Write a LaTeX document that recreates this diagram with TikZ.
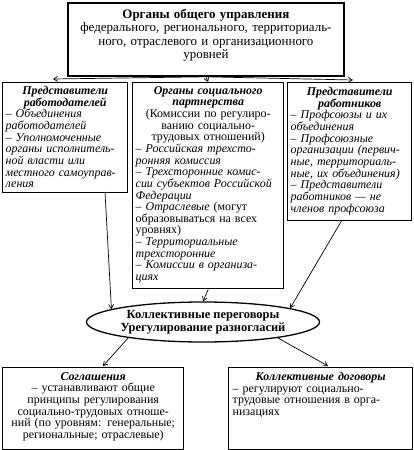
\documentclass[tikz,border=0pt]{standalone}
\usepackage{fontspec}
\setmainfont{Liberation Serif}
\usetikzlibrary{arrows.meta,shapes.geometric,calc}
\begin{document}
\begin{tikzpicture}[x=1bp,y=-1bp,
 box/.style={draw, line width=1.4bp, anchor=north west, inner sep=0pt},
 txt/.style={inner sep=0pt, anchor=north, align=left, font=\fontsize{12}{11.7}\selectfont},
 conn/.style={line width=0.7bp, -{Straight Barb[length=4bp,width=5bp]}}]
\useasboundingbox (0,0) rectangle (413,450);
% top
\node[box, line width=1.8bp, minimum width=276bp, minimum height=73bp] (T) at (67,2) {};
\node[txt, text width=270bp, align=center, font=\fontsize{13}{13.5}\selectfont] (Tt) at ($(T.north)+(0,7)$)
 {\textbf{Органы общего управления}\\федерального, регионального, территориаль-\\ного, отраслевого и организационного\\уровней};
% left
\node[box, minimum width=125bp, minimum height=110bp] (L) at (2,82) {};
\node[txt, text width=119bp] (Lt) at ($(L.north)+(0,4)$)
 {{\centering\bfseries\itshape Представители\\работодателей\par}\itshape
 – Объединения\\работодателей\\– Уполномоченные\\органы исполнитель-\\ной власти или\\местного самоуправ-\\ления};
% middle
\node[box, minimum width=151bp, minimum height=206bp] (M) at (132,82) {};
\node[txt, text width=145bp] (Mt) at ($(M.north)+(0,4)$)
 {{\centering\bfseries\itshape Органы социального\\партнерства\par}{\centering (Комиссии по регулиро-\\ванию социально-\\трудовых отношений)\par}\itshape
 – Российская трехсто-\\ронняя комиссия\\– Трехсторонние комис-\\сии субъектов Российской\\Федерации\\– Отраслевые \upshape(могут\\образовываться на всех\\уровнях)\\\itshape – Территориальные\\трехсторонние\\– Комиссии в организа-\\циях};
% right
\node[box, minimum width=124bp, minimum height=138bp] (R) at (287,82) {};
\node[txt, text width=118bp] (Rt) at ($(R.north)+(0,5)$)
 {{\centering\bfseries\itshape Представители\\работников\par}\itshape
 – Профсоюзы и их\\объединения\\– Профсоюзные\\организации (первич-\\ные, территориаль-\\ные, их объединения)\\– Представители\\работников — не\\членов профсоюза};
% ellipse
\node[draw, ellipse, line width=1.3bp, minimum width=175bp, minimum height=40bp, inner sep=0pt, align=center,
 font=\bfseries\fontsize{12.5}{13.3}\selectfont] (E) at (203,322) {Коллективные переговоры\\Урегулирование разногласий};
% bottom
\node[box, minimum width=181bp, minimum height=82bp] (S) at (2,367) {};
\node[txt, text width=175bp, align=center] (St) at ($(S.north)+(0,5)$)
 {{\bfseries\itshape Соглашения}\\– устанавливают общие\\принципы регулирования\\социально-трудовых отноше-\\ний (по уровням: генеральные;\\региональные; отраслевые)};
\node[box, minimum width=184bp, minimum height=82bp] (K) at (228,367) {};
\node[txt, text width=176bp] (Kt) at ($(K.north)+(0,5)$)
 {{\centering\bfseries\itshape Коллективные договоры\par}
 – регулируют социально-\\трудовые отношения в орга-\\низациях};
% connectors
\coordinate (Lin) at (53,79);
\coordinate (Rin) at (353,80);
\coordinate (Lout) at (105,192);
\coordinate (Rout) at (342,220);
\coordinate (Sin) at (103,366);
\coordinate (Kin) at (328,366);
\draw[conn] (T.south) -- (Lin);
\draw[conn] (T.south) -- (M.north);
\draw[conn] (T.south) -- (Rin);
\draw[conn] (Lout) -- (E.172);
\draw[conn] (Rout) -- (E.9);
\draw[conn] (M.south) -- (E.north);
\draw[conn] (E.192) -- (Sin);
\draw[conn] (E.348) -- (Kin);
\end{tikzpicture}
\end{document}
